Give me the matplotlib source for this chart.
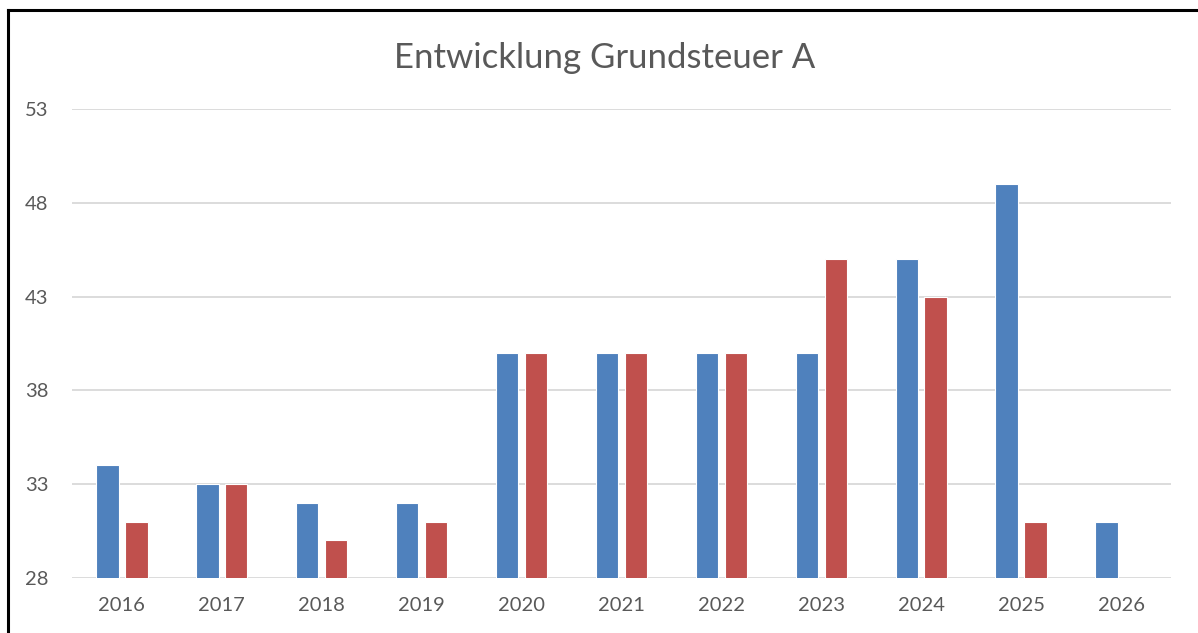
import numpy as np
import matplotlib
matplotlib.use('Agg')
import matplotlib.pyplot as plt
from matplotlib.lines import Line2D

jahre = ['2016', '2017', '2018', '2019', '2020', '2021', '2022', '2023', '2024', '2025', '2026']
blau = [34, 33, 32, 32, 40, 40, 40, 40, 45, 49, 31]
rot = [31, 33, 30, 31, 40, 40, 40, 45, 43, 31, np.nan]
yticks = [28, 33, 38, 43, 48, 53]

textfarbe = '#595959'
plt.rcParams['font.family'] = ['Lato', 'DejaVu Sans']

fig = plt.figure(figsize=(11.98, 6.33), dpi=100)
ax = fig.add_axes([0.060, 0.0869, 0.9175, 0.7409])

x = np.arange(len(jahre))
b = 0.225
ax.bar(x - 0.145, blau, width=b, bottom=0, color='#4F81BD', edgecolor='white', linewidth=0.8, zorder=3)
ax.bar(x + 0.145, rot, width=b, bottom=0, color='#C0504D', edgecolor='white', linewidth=0.8, zorder=3)

ax.set_xlim(-0.5, len(jahre) - 0.5)
ax.set_ylim(28, 53)
ax.set_yticks(yticks)
ax.set_xticks(x)
ax.set_xticklabels(jahre)
ax.yaxis.grid(True, color='#D9D9D9', linewidth=1.3, zorder=0)
ax.tick_params(length=0, labelsize=14.5, colors=textfarbe)
ax.tick_params(axis='x', pad=14)
ax.tick_params(axis='y', pad=17)
for s in ax.spines.values():
    s.set_visible(False)

fig.text(0.5047, 0.908, 'Entwicklung Grundsteuer A', ha='center', va='center', fontsize=25, color=textfarbe)

# Rahmen
fig.add_artist(Line2D([0.0065, 0.0065], [0, 0.984], color='black', linewidth=2.2))
fig.add_artist(Line2D([0.0065, 1.0], [0.984, 0.984], color='black', linewidth=2.2))

plt.savefig('out.png', dpi=100)
